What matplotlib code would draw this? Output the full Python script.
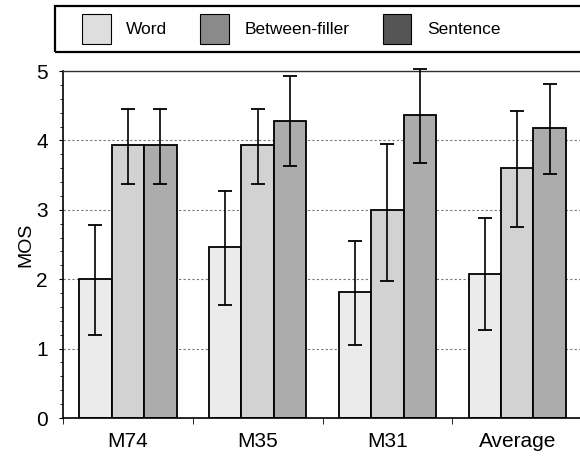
import matplotlib
matplotlib.use("Agg")
import matplotlib.pyplot as plt
import numpy as np
from matplotlib.patches import Patch, Rectangle
from matplotlib.ticker import MultipleLocator

plt.rcParams['font.family'] = ['Liberation Sans', 'DejaVu Sans']

speakers = ["M74", "M35", "M31", "Average"]
conditions = ["Word", "Between-filler", "Sentence"]

# mean MOS per condition, one value per speaker
word_mos = [2.00, 2.47, 1.82, 2.08]
between_mos = [3.93, 3.93, 3.00, 3.60]
sentence_mos = [3.93, 4.28, 4.37, 4.18]

# error bar ends (low, high)
word_lo = [1.20, 1.63, 1.05, 1.27]
word_hi = [2.78, 3.27, 2.55, 2.88]
between_lo = [3.37, 3.37, 1.98, 2.75]
between_hi = [4.45, 4.45, 3.95, 4.43]
sentence_lo = [3.37, 3.63, 3.67, 3.52]
sentence_hi = [4.45, 4.93, 5.03, 4.81]

bar_colors = ["#ebebeb", "#d2d2d2", "#acacac"]
legend_colors = ["#dedede", "#8a8a8a", "#555555"]

fig = plt.figure(figsize=(5.8, 4.57), dpi=100)
ax = fig.add_axes([0.1086, 0.0853, 0.895, 0.7593])

x = np.arange(len(speakers))
w = 0.25
series = [(word_mos, word_lo, word_hi),
          (between_mos, between_lo, between_hi),
          (sentence_mos, sentence_lo, sentence_hi)]

for i, (vals, lo, hi) in enumerate(series):
    pos = x + (i - 1) * w
    vals = np.array(vals)
    yerr = [vals - np.array(lo), np.array(hi) - vals]
    ax.bar(pos, vals, width=w, color=bar_colors[i], edgecolor="black",
           linewidth=1.3, zorder=2)
    eb = ax.errorbar(pos, vals, yerr=yerr, fmt="none", ecolor="black",
                     elinewidth=1.2, capsize=5, capthick=1.3, zorder=3)
    for art in eb.get_children():
        art.set_clip_on(False)

ax.set_xlim(-0.5, 3.5)
ax.set_ylim(0, 5)
ax.set_xticks(x)
ax.set_xticklabels(speakers, fontsize=15)
ax.set_xticks(np.arange(-0.5, 3.6, 1), minor=True)
ax.tick_params(axis="x", which="major", length=0, pad=10)
ax.tick_params(axis="x", which="minor", length=4, direction="out")
ax.set_yticks(range(6))
ax.yaxis.set_minor_locator(MultipleLocator(0.2))
ax.tick_params(axis="y", which="major", labelsize=15, length=3, pad=8)
ax.tick_params(axis="y", which="minor", length=2)
ax.set_ylabel("MOS", fontsize=14, labelpad=1)

ax.grid(axis="y", linestyle=(0, (2, 2)), color="#777777", linewidth=0.8, zorder=0)
ax.spines["right"].set_visible(False)
ax.spines["top"].set_linewidth(1.0)
ax.spines["top"].set_color("#333333")
ax.spines["left"].set_linewidth(1.2)
ax.spines["bottom"].set_linewidth(1.2)

# legend frame drawn by hand so it can run off the right edge like the scan
fig.patches.append(Rectangle((55 / 580, 1 - 52 / 457), 0.96, 46 / 457,
                             transform=fig.transFigure, fill=False,
                             edgecolor="black", linewidth=1.6))
handles = [Patch(facecolor=c, edgecolor="black", linewidth=0.8) for c in legend_colors]
fig.legend(handles, conditions, loc="center left",
           bbox_to_anchor=(82 / 580, 1 - 29 / 457), ncol=3, fontsize=12.5,
           frameon=False, handlelength=1.65, handleheight=2.2,
           handletextpad=0.9, columnspacing=1.9, borderpad=0, borderaxespad=0)

fig.savefig("out.png", dpi=100)
